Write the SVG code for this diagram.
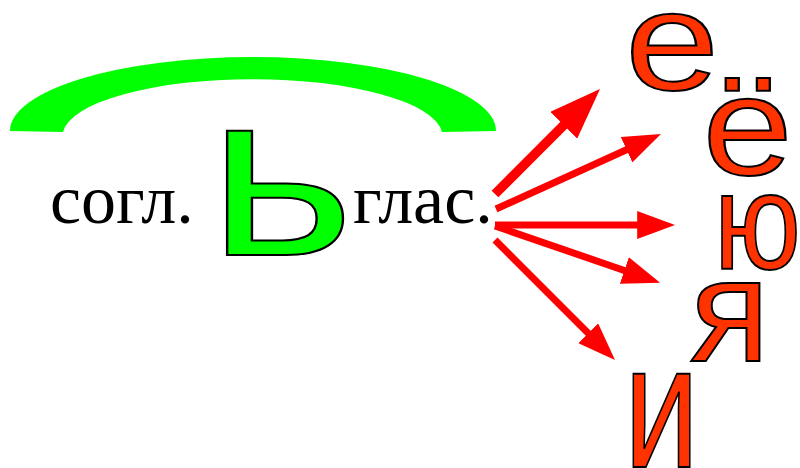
<svg xmlns="http://www.w3.org/2000/svg" width="800" height="468" viewBox="0 0 800 468">
<style>
.lbl{font-family:"Liberation Serif",serif;font-size:70px;fill:#000}
.big{font-family:"Liberation Sans",Arial,sans-serif;fill:#ff3300;stroke:#000;stroke-width:2}
.arr{stroke:#ff0000;fill:none;marker-end:url(#ah)}
</style>
<defs>
<marker id="ah" viewBox="0 0 5.4 4" markerWidth="5.4" markerHeight="4" refX="1.2" refY="2" orient="auto" markerUnits="strokeWidth">
<path d="M0,0 L5.4,2 L0,4 z" fill="#ff0000"/>
</marker>
</defs>
<g id="arc"><path d="M10,131 A243,74 0 0 1 496,131 L442,132 A190,57 0 0 0 63,132 Z" fill="#00ff00"/></g>
<g id="sogl"><text class="lbl" x="50" y="223">согл.</text></g>
<g id="soft"><text transform="translate(207.6,255) scale(1.2,1)" font-family="Liberation Sans,Arial,sans-serif" font-size="235" fill="#00ff00" stroke="#000" stroke-width="2">ь</text></g>
<g id="glas"><text class="lbl" x="353" y="223">глас.</text></g>
<g id="connectors">
<line class="arr" x1="495" y1="194" x2="571.8" y2="117.2" stroke-width="9.5"/>
<line class="arr" x1="496" y1="209" x2="634.2" y2="146.2" stroke-width="7"/>
<line class="arr" x1="495" y1="225" x2="645.6" y2="225" stroke-width="7"/>
<line class="arr" x1="495" y1="226" x2="632.3" y2="273.2" stroke-width="7"/>
<line class="arr" x1="495" y1="240" x2="594.2" y2="339.2" stroke-width="7"/>
</g>
<g id="ye"><text class="big" transform="translate(625,90) scale(1.2,1)" font-size="141" stroke="#ff0000">е</text></g>
<g id="yo"><text class="big" transform="translate(702.5,175) scale(1.15,1)" font-size="141">ё</text></g>
<g id="yu"><text class="big" transform="translate(714,269) scale(0.84,1)" font-size="138">ю</text></g>
<g id="ya"><text class="big" x="690" y="361" font-size="147">я</text></g>
<g id="i"><text class="big" transform="translate(624,467) scale(0.76,1)" font-size="177">и</text></g>
</svg>
